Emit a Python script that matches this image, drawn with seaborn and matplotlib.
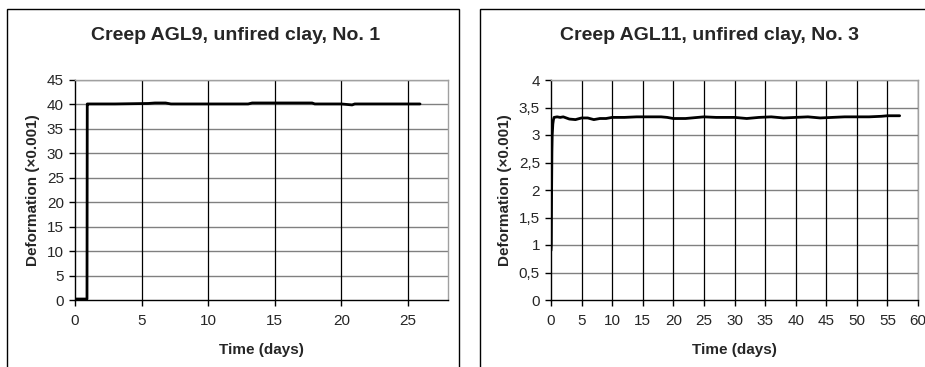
import matplotlib
matplotlib.use("Agg")
import matplotlib.pyplot as plt
import seaborn as sns
import pandas as pd
from matplotlib.patches import Rectangle

sns.set_theme(style="white")
plt.rcParams['font.family'] = ['Liberation Sans', 'DejaVu Sans']

# Left chart: Creep AGL9
t1 = [0.0, 0.5, 0.9, 0.92, 1.0, 3.0, 5.5, 6.0, 6.8, 7.2, 10.0, 13.0, 13.3, 15.0, 17.8, 18.0, 20.0, 20.8, 21.0, 23.0, 25.9]
d1 = [0.2, 0.2, 0.2, 40.1, 40.1, 40.1, 40.2, 40.3, 40.3, 40.1, 40.1, 40.1, 40.3, 40.3, 40.3, 40.1, 40.1, 39.9, 40.1, 40.1, 40.1]

# Right chart: Creep AGL11
t2 = [0.0, 0.05, 0.1, 0.15, 0.2, 0.3, 0.4, 0.5, 1.0, 1.5, 2.0, 3.0, 4.0, 5.0, 6.0, 7.0, 8.0, 9.0, 10.0, 12.0, 14.0,
      16.0, 18.0, 19.0, 20.0, 22.0, 24.0, 25.0, 27.0, 30.0, 32.0, 34.0, 36.0, 38.0, 40.0, 42.0, 44.0, 46.0, 48.0,
      50.0, 52.0, 54.0, 55.0, 57.0]
d2 = [0.9, 1.0, 2.0, 2.7, 3.0, 3.2, 3.28, 3.32, 3.33, 3.32, 3.33, 3.29, 3.28, 3.31, 3.31, 3.28, 3.30, 3.30, 3.32, 3.32, 3.33,
      3.33, 3.33, 3.32, 3.30, 3.30, 3.32, 3.33, 3.32, 3.32, 3.30, 3.32, 3.33, 3.31, 3.32, 3.33, 3.31, 3.32, 3.33,
      3.33, 3.33, 3.34, 3.35, 3.35]

titles = ["Creep AGL9, unfired clay, No. 1", "Creep AGL11, unfired clay, No. 3"]
x_label = "Time (days)"
y_label = "Deformation (\u00d70.001)"

W, H = 925, 367
fig = plt.figure(figsize=(W / 100, H / 100), dpi=100)

def px(x0, y0, x1, y1):
    return [x0 / W, 1 - y1 / H, (x1 - x0) / W, (y1 - y0) / H]

# panel borders
fig.patches.append(Rectangle((7 / W, -0.1), (459 - 7) / W, 1.1 - 9 / H, transform=fig.transFigure,
                             fill=False, edgecolor='black', linewidth=1.0))
fig.patches.append(Rectangle((480 / W, -0.1), 1.0, 1.1 - 9 / H, transform=fig.transFigure,
                             fill=False, edgecolor='black', linewidth=1.0))

ax1 = fig.add_axes(px(75, 80, 448, 300))
ax2 = fig.add_axes(px(551, 80, 918, 300))

def style(ax, xlim, xticks, ylim, yticks, ylabels):
    ax.set_xlim(*xlim)
    ax.set_ylim(*ylim)
    ax.set_xticks(xticks)
    ax.set_yticks(yticks)
    ax.set_yticklabels(ylabels)
    for y in yticks[1:]:
        ax.axhline(y, color='#808080', lw=1.0, zorder=1)
    for x in xticks[1:]:
        ax.axvline(x, color='black', lw=0.9, zorder=1)
    for s in ['top', 'right']:
        ax.spines[s].set_color('#a0a0a0')
        ax.spines[s].set_linewidth(1.0)
    for s in ['left', 'bottom']:
        ax.spines[s].set_color('black')
        ax.spines[s].set_linewidth(1.0)
    ax.tick_params(axis='both', direction='out', length=4, width=1, color='black',
                   labelsize=11, left=True, bottom=True)
    ax.tick_params(axis='x', pad=6)
    ax.tick_params(axis='y', pad=4)
    ax.set_xlabel(x_label, fontsize=11, fontweight='bold', labelpad=11)
    ax.set_ylabel(y_label, fontsize=11, fontweight='bold', labelpad=5)

df1 = pd.DataFrame({'t': t1, 'd': d1})
df2 = pd.DataFrame({'t': t2, 'd': d2})
sns.lineplot(data=df1, x='t', y='d', ax=ax1, color='black', lw=2.0, zorder=3, estimator=None, sort=False)
sns.lineplot(data=df2, x='t', y='d', ax=ax2, color='black', lw=2.0, zorder=3, estimator=None, sort=False)

style(ax1, (0, 28), list(range(0, 26, 5)), (0, 45), list(range(0, 46, 5)), [str(v) for v in range(0, 46, 5)])
yt2 = [0, 0.5, 1, 1.5, 2, 2.5, 3, 3.5, 4]
style(ax2, (0, 60), list(range(0, 61, 5)), (0, 4), yt2, ['0', '0,5', '1', '1,5', '2', '2,5', '3', '3,5', '4'])

fig.text(236 / W, 1 - 35 / H, titles[0], ha='center', va='center', fontsize=14, fontweight='bold')
fig.text(709 / W, 1 - 35 / H, titles[1], ha='center', va='center', fontsize=14, fontweight='bold')

fig.savefig("out.png", dpi=100)
